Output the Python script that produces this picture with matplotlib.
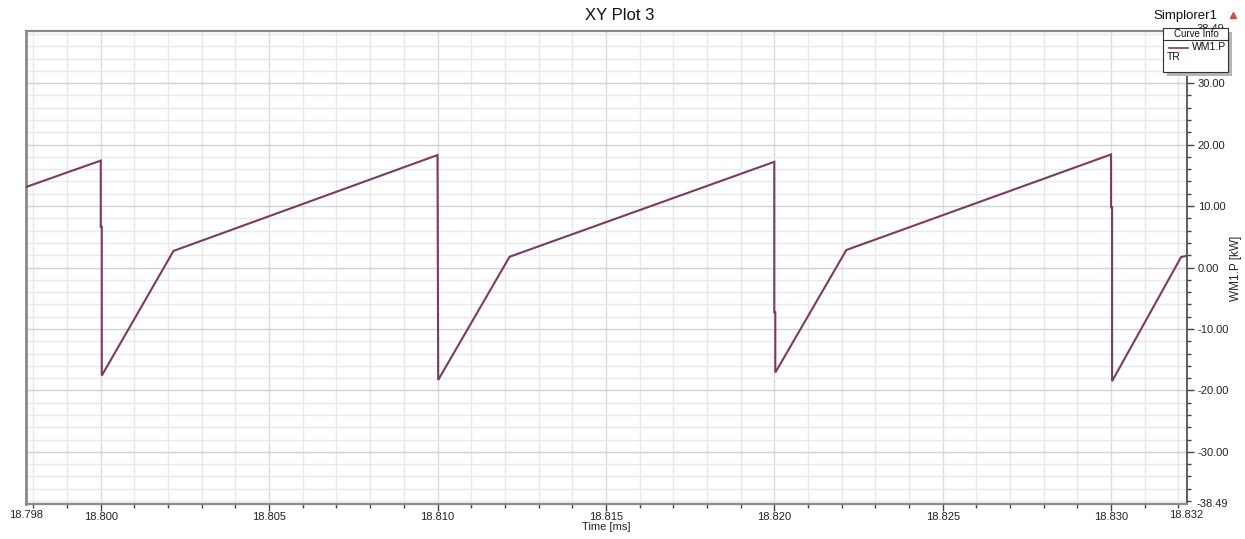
import numpy as np
import matplotlib
matplotlib.use("Agg")
import matplotlib.pyplot as plt
from matplotlib.patches import Rectangle
from matplotlib.lines import Line2D
from matplotlib.ticker import FixedLocator, FuncFormatter

plt.rcParams['font.family'] = ['Liberation Sans', 'DejaVu Sans']

# WM1.P power trace [kW] versus simulation time [ms]
time_ms = [18.79778, 18.80000, 18.80000, 18.80003, 18.80003, 18.80216,
           18.81000, 18.81002, 18.81214,
           18.82000, 18.82000, 18.82003, 18.82003, 18.82214,
           18.83000, 18.83000, 18.83003, 18.83003, 18.83208, 18.83224]
power_kw = [13.1, 17.4, 6.6, 6.6, -17.6, 2.7,
            18.3, -18.3, 1.75,
            17.2, -7.3, -7.3, -17.1, 2.85,
            18.4, 9.8, 9.8, -18.5, 1.7, 1.9]

x_limits = [18.79778, 18.83224]
x_edge_labels = ['18.798', '18.832']
y_limits = [-38.49, 38.49]
x_major = [18.800, 18.805, 18.810, 18.815, 18.820, 18.825, 18.830]
x_minor = np.round(np.arange(18.798, 18.8325, 0.001), 3)
y_major = [-30, -20, -10, 0, 10, 20, 30]
y_minor = np.arange(-38, 39, 2)

trace_color = '#7b3a62'
W, H = 1245, 539
FS = 8

fig = plt.figure(figsize=(W / 100, H / 100), dpi=100)
ax = fig.add_axes([26 / W, 1 - 504 / H, (1186.5 - 26) / W, (504 - 31) / H])

ax.set_xlim(*x_limits)
ax.set_ylim(*y_limits)

# grid: light lines every minor step, slightly darker on major steps
for xv in x_minor:
    major = any(abs(xv - m) < 1e-7 for m in x_major)
    ax.axvline(xv, color='#dcdcdc' if major else '#e9e9e9', lw=1.0, zorder=0)
for yv in y_minor:
    major = yv % 10 == 0
    ax.axhline(yv, color='#d2d2d2' if major else '#e9e9e9', lw=1.0, zorder=0)

ax.plot(time_ms, power_kw, color=trace_color, lw=1.5, zorder=3,
        solid_joinstyle='miter')

# axes: value scale on the right
ax.yaxis.tick_right()
ax.xaxis.set_major_locator(FixedLocator(x_major))
ax.xaxis.set_minor_locator(FixedLocator(x_minor))
ax.yaxis.set_major_locator(FixedLocator(y_major))
ax.yaxis.set_minor_locator(FixedLocator(y_minor))
ax.xaxis.set_major_formatter(FuncFormatter(lambda v, p: f"{v:.3f}"))
ax.yaxis.set_major_formatter(FuncFormatter(lambda v, p: f"{v:.2f}"))
ax.tick_params(axis='both', which='major', direction='out', length=5,
               width=1, color='#444444', labelsize=FS, labelcolor='#222222', pad=1)
ax.tick_params(axis='both', which='minor', direction='out', length=3,
               width=1, color='#444444')
ax.tick_params(axis='y', which='major', pad=3)

for side, col, lw in [('left', '#8a8a8a', 2.0), ('top', '#8a8a8a', 1.6),
                      ('bottom', '#8a8a8a', 1.6), ('right', '#444444', 1.2)]:
    ax.spines[side].set_color(col)
    ax.spines[side].set_linewidth(lw)

# range labels at the axis ends
ax.text(0, -0.012, x_edge_labels[0], transform=ax.transAxes,
        ha='center', va='top', fontsize=FS, color='#222222')
ax.text(1, -0.012, x_edge_labels[1], transform=ax.transAxes,
        ha='center', va='top', fontsize=FS, color='#222222')
ax.text(1.009, 0, f"{y_limits[0]:.2f}", transform=ax.transAxes,
        ha='left', va='center', fontsize=FS, color='#222222')
ax.text(1.009, 1.004, f"{y_limits[1]:.2f}", transform=ax.transAxes,
        ha='left', va='center', fontsize=FS, color='#222222')

ax.set_xlabel('Time [ms]', fontsize=FS, labelpad=0, color='#222222')
fig.text(1236 / W, 1 - 268 / H, 'WM1.P [kW]', rotation=90, ha='center',
         va='center', fontsize=8.5, color='#222222')

fig.text(620 / W, 1 - 15 / H, 'XY Plot 3', ha='center', va='center',
         fontsize=12, color='#111111')
fig.text(1185 / W, 1 - 16 / H, 'Simplorer1', ha='center', va='center',
         fontsize=9.5, color='#111111')
fig.add_artist(Line2D([1233 / W], [1 - 15 / H], marker='^', markersize=5,
                      color='#d04a4a', transform=fig.transFigure))


# curve info box
def fx(px):
    return px / W


def fy(py):
    return 1 - py / H


fig.add_artist(Rectangle((fx(1167), fy(76)), (1232 - 1167) / W, (76 - 32) / H,
                         transform=fig.transFigure, facecolor='#b5b5b5',
                         edgecolor='none', zorder=5))
fig.add_artist(Rectangle((fx(1163), fy(72)), (1228 - 1163) / W, (72 - 28) / H,
                         transform=fig.transFigure, facecolor='white',
                         edgecolor='#333333', lw=0.8, zorder=6))
fig.add_artist(Line2D([fx(1163), fx(1228)], [fy(40), fy(40)],
                      transform=fig.transFigure, color='#333333', lw=0.8, zorder=7))
fig.text(fx(1196), fy(34), 'Curve Info', ha='center', va='center',
         fontsize=7, color='#111111', zorder=8)
fig.add_artist(Line2D([fx(1169), fx(1188)], [fy(47.5), fy(47.5)],
                      transform=fig.transFigure, color=trace_color, lw=1.2, zorder=8))
fig.text(fx(1192), fy(46.5), 'WM1.P', ha='left', va='center',
         fontsize=7.5, color='#111111', zorder=8)
fig.text(fx(1167), fy(56.5), 'TR', ha='left', va='center',
         fontsize=7.5, color='#111111', zorder=8)

fig.savefig('out.png', dpi=100)
